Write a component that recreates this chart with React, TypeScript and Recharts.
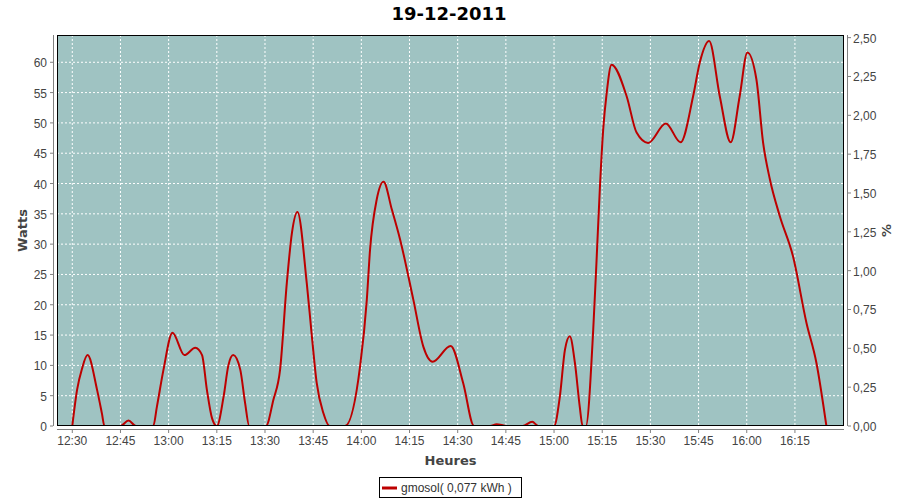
import React from "react";
import { LineChart, Line, XAxis, YAxis, CartesianGrid, Label } from "recharts";

const title = "19-12-2011";
const seriesName = "gmosol( 0,077 kWh )";

const tickLabels = [
  "12:30", "12:45", "13:00", "13:15", "13:30", "13:45", "14:00", "14:15",
  "14:30", "14:45", "15:00", "15:15", "15:30", "15:45", "16:00", "16:15",
];
const wattTicks = [0, 5, 10, 15, 20, 25, 30, 35, 40, 45, 50, 55, 60];
const pctTicks = [0, 0.25, 0.5, 0.75, 1, 1.25, 1.5, 1.75, 2, 2.25, 2.5];

const times = [
  "12:30:00", "12:31:30", "12:33:00", "12:34:45", "12:37:42", "12:39:15", "12:40:00",
  "12:45:00", "12:47:30", "12:49:48", "12:55:12", "12:56:21", "12:58:24", "13:01:12",
  "13:04:54", "13:08:18", "13:10:24", "13:11:54", "13:13:30", "13:15:00", "13:17:06",
  "13:18:36", "13:20:06", "13:22:18", "13:23:48", "13:25:06", "13:30:18", "13:32:36",
  "13:34:42", "13:36:48", "13:38:24", "13:40:06", "13:43:00", "13:44:36", "13:46:06",
  "13:48:12", "13:50:06", "13:54:54", "13:59:36", "14:01:42", "14:02:42", "14:04:48",
  "14:06:54", "14:09:30", "14:12:06", "14:16:12", "14:19:18", "14:22:12", "14:27:48",
  "14:31:42", "14:35:06", "14:40:06", "14:42:06", "14:45:18", "14:50:12", "14:53:12",
  "14:55:06", "15:00:00", "15:01:48", "15:03:24", "15:04:54", "15:06:30", "15:08:00",
  "15:08:54", "15:09:54", "15:12:12", "15:13:12", "15:14:18", "15:15:18", "15:16:24",
  "15:17:54", "15:22:36", "15:25:42", "15:29:18", "15:34:48", "15:39:24", "15:43:18",
  "15:45:24", "15:48:18", "15:51:36", "15:55:00", "15:57:48", "16:00:12", "16:03:00",
  "16:05:06", "16:07:12", "16:10:18", "16:14:24", "16:18:36", "16:21:42", "16:24:48",
];
const watts = [
  0, 6, 9.4, 11.7, 6, 2, 0,
  0, 0.9, 0, 0, 3.2, 9.3, 15.4,
  11.7, 12.9, 11.7, 6, 1.3, 0, 4.8,
  10, 11.7, 9.3, 3.8, 0, 0, 4.3,
  9.3, 23.6, 31.9, 35.3, 23.6, 14.8, 7.1,
  2.1, 0, 0, 9.8, 20.8, 29, 37.4,
  40.3, 35.7, 30.7, 20.8, 13.1, 10.6, 13.2,
  7.1, 0, 0, 0.3, 0, 0, 0.7,
  0, 0, 4.8, 12.6, 14.8, 10.4, 3.2,
  0, 0, 15.9, 26.9, 39.6, 48.9, 55,
  59.6, 54.4, 48.4, 46.7, 49.9, 46.8, 54.4,
  60, 63.5, 54.4, 46.8, 54.4, 61.6, 57.2,
  46.7, 40.7, 34.6, 28, 17, 10.4, 0,
];

const toMin = (s: string) => {
  const [h, m, sec = 0] = s.split(":").map(Number);
  return h * 60 + m + sec / 60;
};
const pad = (n: number) => String(n).padStart(2, "0");
const fmtTime = (v: number) => {
  const r = Math.round(v);
  return `${pad(Math.floor(r / 60))}:${pad(r % 60)}`;
};

const data = times.map((t, i) => ({ t: toMin(t), w: watts[i] }));
const xTicks = tickLabels.map((s) => toMin(s));

const axisColor = "#808080";
const textColor = "#444444";
const tickFont = "'Liberation Sans', Arial, sans-serif";
const labelFont = "'DejaVu Sans', sans-serif";

function LeftTick(props: any) {
  const { x, y, payload } = props;
  return (
    <g>
      <line x1={x - 7} x2={x - 4} y1={y} y2={y} stroke={axisColor} />
      <text x={x - 10} y={y + 5} textAnchor="end" fill={textColor} fontSize={12} fontFamily={tickFont}>
        {payload.value}
      </text>
    </g>
  );
}

function RightTick(props: any) {
  const { x, y, payload } = props;
  return (
    <g>
      <line x1={x + 4} x2={x + 7} y1={y} y2={y} stroke={axisColor} />
      <text x={x + 9} y={y + 5} textAnchor="start" fill={textColor} fontSize={12} fontFamily={tickFont}>
        {Number(payload.value).toFixed(2).replace(".", ",")}
      </text>
    </g>
  );
}

function BottomTick(props: any) {
  const { x, y, payload } = props;
  return (
    <g>
      <line x1={x} x2={x} y1={y + 4} y2={y + 7} stroke={axisColor} />
      <text x={x} y={y + 19} textAnchor="middle" fill={textColor} fontSize={12} fontFamily={tickFont}>
        {fmtTime(payload.value)}
      </text>
    </g>
  );
}

export default function App() {
  return (
    <div style={{ position: "absolute", left: 0, top: 0, width: 900, height: 500, background: "#fff" }}>
      <LineChart width={900} height={500} data={data} margin={{ top: 35, right: 0, bottom: 24, left: 0 }}>
        <CartesianGrid
          yAxisId="left"
          fill="#9fc3c2"
          fillOpacity={1}
          stroke="#ffffff"
          strokeDasharray="2 2"
        />
        <XAxis
          dataKey="t"
          type="number"
          domain={[745.24, 990.28]}
          allowDataOverflow
          ticks={xTicks}
          interval={0}
          height={50}
          tickSize={0}
          tickMargin={0}
          axisLine={false}
          tickLine={false}
          tick={<BottomTick />}
        >
          <Label value="Heures" position="center" dy={9} fill={textColor} fontSize={13} fontWeight="bold" fontFamily={labelFont} />
        </XAxis>
        <YAxis
          yAxisId="left"
          domain={[0, 64.5]}
          allowDataOverflow
          ticks={wattTicks}
          interval={0}
          width={57}
          tickSize={0}
          tickMargin={0}
          axisLine={false}
          tickLine={false}
          tick={<LeftTick />}
        >
          <Label value="Watts" angle={-90} position="center" dx={-6} fill={textColor} fontSize={13} fontWeight="bold" fontFamily={labelFont} />
        </YAxis>
        <YAxis
          yAxisId="right"
          orientation="right"
          domain={[0, 2.517]}
          allowDataOverflow
          ticks={pctTicks}
          interval={0}
          width={56}
          tickSize={0}
          tickMargin={0}
          axisLine={false}
          tickLine={false}
          tick={<RightTick />}
        >
          <Label value="%" angle={-90} position="center" dx={14} fill={textColor} fontSize={13} fontWeight="bold" fontFamily={labelFont} />
        </YAxis>
        <Line
          yAxisId="left"
          type="monotone"
          dataKey="w"
          name={seriesName}
          stroke="#bd0000"
          strokeWidth={2}
          dot={false}
          activeDot={false}
          isAnimationActive={false}
        />
      </LineChart>
      <svg width={900} height={500} style={{ position: "absolute", left: 0, top: 0, pointerEvents: "none" }}>
        <text x={449} y={20} textAnchor="middle" fontSize={18} fontWeight="bold" fontFamily={labelFont} fill="#000">
          {title}
        </text>
        <rect x={57.5} y={35.5} width={786} height={390} fill="none" stroke="#000" />
        <line x1={53.5} x2={53.5} y1={35} y2={426} stroke={axisColor} />
        <line x1={847.5} x2={847.5} y1={35} y2={426} stroke={axisColor} />
        <line x1={57} x2={844} y1={429.5} y2={429.5} stroke={axisColor} />
      </svg>
      <div
        style={{
          position: "absolute",
          left: 379,
          top: 477,
          width: 143,
          height: 21,
          boxSizing: "border-box",
          border: "1px solid #000",
          display: "flex",
          alignItems: "center",
          fontFamily: tickFont,
          fontSize: 12,
          color: "#333",
        }}
      >
        <svg width={20} height={19} style={{ flex: "none" }}>
          <line x1={2} x2={17} y1={10} y2={10} stroke="#bd0000" strokeWidth={3} />
        </svg>
        <span style={{ marginLeft: 1, whiteSpace: "nowrap" }}>{seriesName}</span>
      </div>
    </div>
  );
}
